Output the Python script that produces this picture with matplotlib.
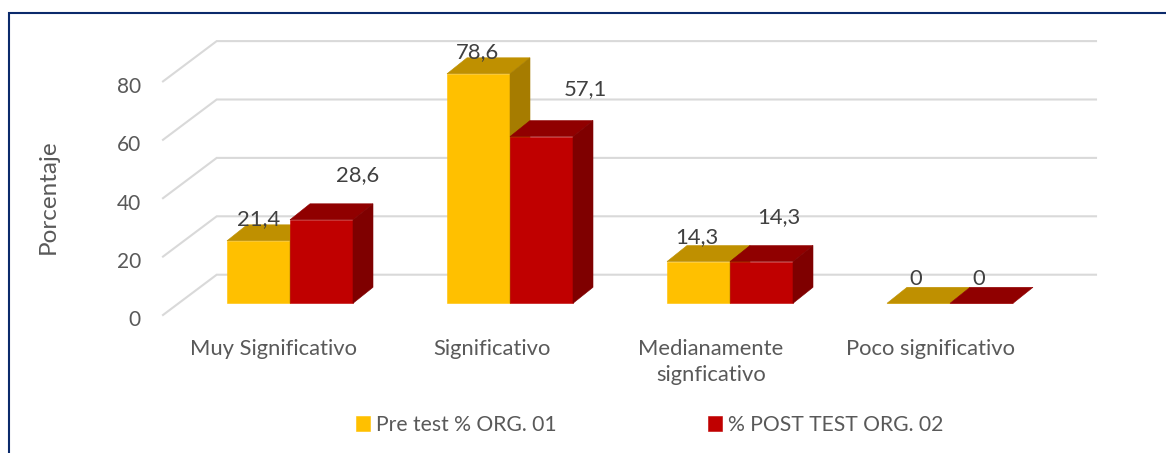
import matplotlib
matplotlib.use('Agg')
import matplotlib.pyplot as plt
from matplotlib.patches import Rectangle
from matplotlib.transforms import ScaledTranslation

plt.rcParams['font.family'] = ['Lato', 'DejaVu Sans']

categorias = ['Muy Significativo', 'Significativo', 'Medianamente\nsignficativo', 'Poco significativo']
pre_test = [21.4, 78.6, 14.3, 0]
post_test = [28.6, 57.1, 14.3, 0]
etiquetas_pre = ['21,4', '78,6', '14,3', '0']
etiquetas_post = ['28,6', '57,1', '14,3', '0']
y_ticks = [0, 20, 40, 60, 80]

# label offsets from the top of each bar, pixels (they were dragged by hand in the original)
offset_pre = [(0, 22), (-1, 22), (-2, 24), (-3, 24)]
offset_post = [(36, 45), (44, 47), (17, 44), (-3, 24)]

W, H = 1166, 453
fig = plt.figure(figsize=(W / 100, H / 100), dpi=100)

# plot area in pixels
left, right, top, bottom = 163, 1096, 42, 315
ax = fig.add_axes([left / W, 1 - bottom / H, (right - left) / W, (bottom - top) / H])
px_x = 220.0          # pixels per category
px_y = 2.92           # pixels per percent
x0 = 290.0            # centre of first group
ax.set_xlim((left - x0) / px_x, (right - x0) / px_x)
ax.set_ylim(0, (bottom - top) / px_y)

bar_w = 63 / px_x
floor = 11.7 / px_y   # bars sit in front of the floor edge
dep_x, dep_y = 20 / px_x, 16 / px_y
wall_x, wall_y = 53.7 / px_x, 40.3 / px_y

x_left = (left - x0) / px_x
x_right = (right - x0) / px_x
for t in y_ticks:
    ax.plot([x_left, x_left + wall_x, x_right], [t, t + wall_y, t + wall_y],
            color='#D9D9D9', lw=1.5, zorder=1, clip_on=False, solid_joinstyle='miter')


def draw_bars(xpos, values, front, upper, side, name):
    bars = ax.bar(xpos, values, bar_w, bottom=floor, color=front, edgecolor=front,
                  linewidth=0.4, zorder=3, label=name, align='edge')
    for x, v in zip(xpos, values):
        y = floor + v
        ax.fill([x, x + bar_w, x + bar_w + dep_x, x + dep_x], [y, y, y + dep_y, y + dep_y],
                color=upper, lw=0.4, zorder=3, clip_on=False)
        if v > 0:
            ax.fill([x + bar_w, x + bar_w + dep_x, x + bar_w + dep_x, x + bar_w],
                    [floor, floor + dep_y, y + dep_y, y],
                    color=side, lw=0.4, zorder=3, clip_on=False)
    return bars


def draw_labels(xpos, values, texts, offsets):
    for x, v, s, off in zip(xpos, values, texts, offsets):
        ax.annotate(s, (x + bar_w / 2, floor + v), xytext=(off[0] * 0.72, off[1] * 0.72),
                    textcoords='offset points', ha='center', va='center',
                    fontsize=15.8, color='#404040', zorder=5)


n = range(len(categorias))
x_pre = [i - bar_w for i in n]
x_post = [i for i in n]

b1 = draw_bars(x_pre, pre_test, '#FFC000', '#BF9000', '#A67C00', 'Pre test % ORG. 01')
b2 = draw_bars(x_post, post_test, '#C00000', '#900000', '#7F0000', '% POST TEST ORG. 02')
draw_labels(x_pre, pre_test, etiquetas_pre, offset_pre)
draw_labels(x_post, post_test, etiquetas_post, offset_post)

for s in ax.spines.values():
    s.set_visible(False)
ax.patch.set_alpha(0)
ax.set_yticks(y_ticks)
ax.set_xticks([i - (17 + i) / px_x for i in n])
ax.set_xticklabels(categorias, linespacing=1.4)
ax.tick_params(axis='y', length=0, pad=16, labelsize=15, labelcolor='#595959')
ax.tick_params(axis='x', length=0, pad=17, labelsize=15.8, labelcolor='#595959')
for lab in ax.get_yticklabels():
    lab.set_transform(lab.get_transform() + ScaledTranslation(0, -2.5 / 72, fig.dpi_scale_trans))
ax.set_ylabel('Porcentaje', fontsize=17.5, color='#595959', va='center')
ax.yaxis.set_label_coords((48 - left) / (right - left), (bottom - 197) / (bottom - top))

fig.legend(handles=[b1, b2], loc='center', bbox_to_anchor=(649.5 / W, 1 - 425 / H), ncol=2,
           frameon=False, fontsize=15.2, labelcolor='#595959', handlelength=0.66, handleheight=0.66,
           handletextpad=0.28, columnspacing=7.2)

# outer frame of the pasted chart, it runs off the right and bottom edges
fig.add_artist(Rectangle((9 / W, -0.02), 1.1, 1.02 - 13 / H, transform=fig.transFigure,
                         fill=False, edgecolor='#0B2A6B', linewidth=1.5))

fig.savefig('out.png', dpi=100)
